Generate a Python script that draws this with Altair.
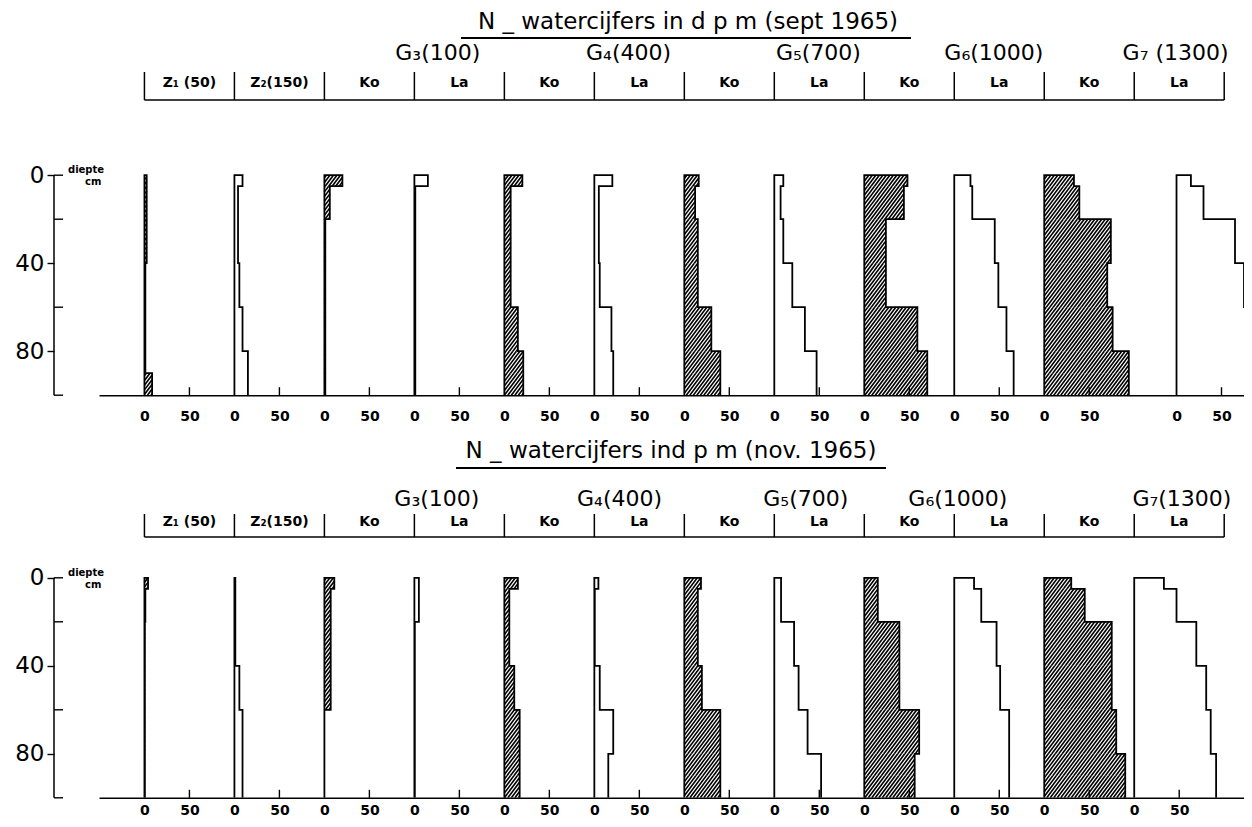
import altair as alt
import pandas as pd

# ---------------- data ----------------
columns = ["Z1", "Z2", "G3 Ko", "G3 La", "G4 Ko", "G4 La",
           "G5 Ko", "G5 La", "G6 Ko", "G6 La", "G7 Ko", "G7 La"]
header_labels = ["Z\u2081 (50)", "Z\u2082(150)", "Ko", "La", "Ko", "La",
                 "Ko", "La", "Ko", "La", "Ko", "La"]
hatched = [True, False, True, False, True, False,
           True, False, True, False, True, False]
group_titles_sept = ["G\u2083(100)", "G\u2084(400)", "G\u2085(700)", "G\u2086(1000)", "G\u2087 (1300)"]
group_titles_nov = ["G\u2083(100)", "G\u2084(400)", "G\u2085(700)", "G\u2086(1000)", "G\u2087(1300)"]

# depth layers (cm)
layer_top = [0, 5, 20, 40, 60, 80, 90]
layer_bottom = [5, 20, 40, 60, 80, 90, 100]

# N-watercijfers (d p m) per layer, sept 1965
sept_z1 = [2.5, 2.5, 2.5, 1, 1, 1, 8.5]
sept_z2 = [9, 4, 4, 5.5, 9, 15, 15]
sept_g3_ko = [20, 6, 1, 1, 1, 1, 1]
sept_g3_la = [15, 1, 1, 1, 1, 1, 1]
sept_g4_ko = [20, 7, 7, 7, 15, 21, 21]
sept_g4_la = [20, 5, 5, 6, 19, 21, 21]
sept_g5_ko = [16, 12, 15, 15, 30, 40, 40]
sept_g5_la = [10, 7, 10, 20, 34, 47, 47]
sept_g6_ko = [48, 44, 24, 24, 59, 70, 70]
sept_g6_la = [18, 20, 45, 49, 58, 66, 66]
sept_g7_ko = [33, 39, 74, 70, 76, 94, 94]
sept_g7_la = [16, 30, 65, 75, 84, 84, 84]

# nov 1965
nov_z1 = [4, 1, 0.5, 0.5, 0.5, 0.5, 0.5]
nov_z2 = [1, 1, 1, 5.5, 9, 9, 9]
nov_g3_ko = [11, 7, 7, 7, 0, 0, 0]
nov_g3_la = [5, 5, 0.5, 0.5, 0.5, 0.5, 0.5]
nov_g4_ko = [15, 5.5, 5.5, 11, 17, 17, 17]
nov_g4_la = [4.5, 0.5, 0.5, 6, 21, 15.5, 15.5]
nov_g5_ko = [18.5, 15, 15, 19.5, 40, 40, 40]
nov_g5_la = [7.5, 7.5, 22, 27, 37, 52, 52]
nov_g6_ko = [15, 15, 39, 39, 61, 56, 56]
nov_g6_la = [22, 30, 47, 51, 61, 61, 61]
nov_g7_ko = [30, 45, 75, 75, 80, 90, 90]
nov_g7_la = [33, 47, 69, 80, 85, 91, 91]

sept_values = [sept_z1, sept_z2, sept_g3_ko, sept_g3_la, sept_g4_ko, sept_g4_la,
               sept_g5_ko, sept_g5_la, sept_g6_ko, sept_g6_la, sept_g7_ko, sept_g7_la]
nov_values = [nov_z1, nov_z2, nov_g3_ko, nov_g3_la, nov_g4_ko, nov_g4_la,
              nov_g5_ko, nov_g5_la, nov_g6_ko, nov_g6_la, nov_g7_ko, nov_g7_la]

# ---------------- layout / style ----------------
FONT = "DejaVu Sans"
KX = 0.9          # px per value unit
KY = 2.2          # px per cm depth
COL = 100         # value units per profile column
XMIN, XMAX = -50.5, 1222
W = round((XMAX - XMIN) * KX)
HATCH_S = 3.5     # hatch spacing (px, horizontal)
HATCH_M = 0.75    # hatch run per rise (slope of ////)

row_cfg = [
    dict(values=sept_values, groups=group_titles_sept, ytop=-76, last_shift=47,
         title="N _ watercijfers in d p m  (sept 1965)", title_x=589, title_y=14,
         ul=(362, 812), ul_y=30, group_y=45, group_off=[26, 38, 49, 44, 46],
         label_y=75, line_y=92, tick_top=64, xpad=14),
    dict(values=nov_values, groups=group_titles_nov, ytop=-64, last_shift=0,
         title="N _ watercijfers ind p m  (nov. 1965)", title_x=572, title_y=14,
         ul=(357, 787), ul_y=31, group_y=62, group_off=[25, 28, 35, 4, 53],
         label_y=85, line_y=100, tick_top=77, xpad=6),
]


def make_row(cfg):
    vals = cfg["values"]
    H = (100 - cfg["ytop"]) * KY
    d0px = -cfg["ytop"] * KY
    origins = [i * COL for i in range(len(columns))]
    origins[-1] += cfg["last_shift"]

    outline_rows, rect_rows = [], []
    for i, name in enumerate(columns):
        o, v = origins[i], vals[i]
        pts = [(o, 100), (o, 0)]
        for k in range(len(layer_top)):
            pts.append((o + v[k], layer_top[k]))
            pts.append((o + v[k], layer_bottom[k]))
            rect_rows.append(dict(key=name, x0=o, x1=o + v[k], d0=layer_top[k],
                                  d1=layer_bottom[k], hatched=hatched[i]))
        for s, (x, d) in enumerate(pts):
            outline_rows.append(dict(key=name, seq=s, x=x, d=d))
    outline_df = pd.DataFrame(outline_rows)
    rect_df = pd.DataFrame(rect_rows)

    xvals = sorted(origins + [o + 50 for o in origins])
    xs = alt.Scale(domain=[XMIN, XMAX], nice=False, zero=False)
    ys = alt.Scale(domain=[cfg["ytop"], 100], reverse=True, nice=False, zero=False)
    x_axis = alt.Axis(values=xvals, labelExpr=f"indexof({origins}, datum.value) >= 0 ? '0' : '50'",
                      ticks=False, grid=False, title=None, domainColor="black", domainWidth=1.6,
                      labelFont=FONT, labelFontSize=14, labelFontWeight="bold", labelColor="black",
                      labelPadding=cfg["xpad"], labelOverlap=False, labelFlush=False)
    y_axis = alt.Axis(values=[0, 40, 80], offset=45, domain=False, ticks=True, tickSize=7,
                      tickColor="black", tickWidth=1.4, grid=False, title=None,
                      labelFont=FONT, labelFontSize=23, labelColor="black", labelPadding=3)

    def X(f):
        return alt.X(f, type="quantitative", scale=xs, axis=x_axis)

    def Y(f):
        return alt.Y(f, type="quantitative", scale=ys, axis=y_axis)

    hatch = (alt.Chart(rect_df)
             .transform_filter("datum.hatched && datum.x1 > datum.x0")
             .transform_calculate(u0=f"datum.x0 * {KX}")
             .transform_calculate(u1=f"datum.x1 * {KX}")
             .transform_calculate(w0=f"datum.d0 * {KY}")
             .transform_calculate(w1=f"datum.d1 * {KY}")
             .transform_calculate(ks=f"sequence(ceil((datum.u0 + {HATCH_M} * datum.w0) / {HATCH_S}), "
                                     f"floor((datum.u1 + {HATCH_M} * datum.w1) / {HATCH_S}) + 1)")
             .transform_flatten(["ks"])
             .transform_calculate(c=f"datum.ks * {HATCH_S}")
             .transform_calculate(wA=f"min(datum.w1, (datum.c - datum.u0) / {HATCH_M})")
             .transform_calculate(wB=f"max(datum.w0, (datum.c - datum.u1) / {HATCH_M})")
             .transform_filter("datum.wA > datum.wB")
             .transform_calculate(XA=f"(datum.c - {HATCH_M} * datum.wA) / {KX}")
             .transform_calculate(XB=f"(datum.c - {HATCH_M} * datum.wB) / {KX}")
             .transform_calculate(DA=f"datum.wA / {KY}")
             .transform_calculate(DB=f"datum.wB / {KY}")
             .mark_rule(color="black", strokeWidth=1.6, clip=True)
             .encode(x=X("XA"), y=Y("DA"), x2="XB:Q", y2="DB:Q"))

    outline = (alt.Chart(outline_df)
               .mark_line(color="black", strokeWidth=1.8, clip=True, strokeJoin="miter")
               .encode(x=X("x"), y=Y("d"), detail="key:N", order=alt.Order("seq:Q")))

    ticks50 = (alt.Chart(pd.DataFrame({"x": [o + 50 for o in origins]}))
               .mark_rule(color="black", strokeWidth=1.4)
               .encode(x=X("x"), y=alt.value(H - 8), y2=alt.value(H)))

    bounds = (alt.Chart(pd.DataFrame({"x": [i * COL for i in range(len(columns) + 1)]}))
              .mark_rule(color="black", strokeWidth=1.5)
              .encode(x=X("x"), y=alt.value(cfg["tick_top"]), y2=alt.value(cfg["line_y"])))

    hline = (alt.Chart(pd.DataFrame({"x0": [0], "x1": [len(columns) * COL]}))
             .mark_rule(color="black", strokeWidth=1.3)
             .encode(x=X("x0"), x2="x1:Q", y=alt.value(cfg["line_y"])))

    hlabels = (alt.Chart(pd.DataFrame({"x": [i * COL + 50 for i in range(len(columns))],
                                       "label": header_labels}))
               .mark_text(font=FONT, fontSize=14, fontWeight="bold", color="black")
               .encode(x=X("x"), y=alt.value(cfg["label_y"]), text="label:N"))

    gtitles = (alt.Chart(pd.DataFrame({"x": [(3 + 2 * g) * COL + cfg["group_off"][g] for g in range(5)],
                                       "label": cfg["groups"]}))
               .mark_text(font=FONT, fontSize=22, color="black")
               .encode(x=X("x"), y=alt.value(cfg["group_y"]), text="label:N"))

    one = pd.DataFrame({"t": [cfg["title"]]})
    title = (alt.Chart(one).mark_text(font=FONT, fontSize=23, color="black")
             .encode(x=alt.value(cfg["title_x"]), y=alt.value(cfg["title_y"]), text="t:N"))
    underline = (alt.Chart(one).mark_rule(color="black", strokeWidth=1.8)
                 .encode(x=alt.value(cfg["ul"][0]), x2=alt.value(cfg["ul"][1]), y=alt.value(cfg["ul_y"])))

    yline = (alt.Chart(pd.DataFrame({"d0": [0], "d1": [100]}))
             .mark_rule(color="black", strokeWidth=1.5)
             .encode(x=alt.value(-45), y=Y("d0"), y2="d1:Q"))
    minor = (alt.Chart(pd.DataFrame({"d": [0, 20, 60, 100]}))
             .mark_rule(color="black", strokeWidth=1.4)
             .encode(x=alt.value(-45), x2=alt.value(-36), y=Y("d")))
    diepte = (alt.Chart(pd.DataFrame({"t": ["diepte", "cm"], "px": [-31, -14], "py": [d0px - 5, d0px + 7]}))
              .mark_text(font=FONT, fontSize=10, fontWeight="bold", color="black", align="left")
              .encode(x=alt.X("px:Q", scale=None), y=alt.Y("py:Q", scale=None), text="t:N"))

    return alt.layer(hatch, outline, ticks50, bounds, hline, hlabels, gtitles,
                     title, underline, yline, minor, diepte).properties(width=W, height=H)


rows = [make_row(c) for c in row_cfg]
chart = (alt.vconcat(*rows, spacing=13)
         .properties(padding={"left": 6, "top": 0, "right": 0, "bottom": 0}, background="white")
         .configure_view(stroke=None))

chart.save("out.html", embed_options={"renderer": "svg", "actions": False})
